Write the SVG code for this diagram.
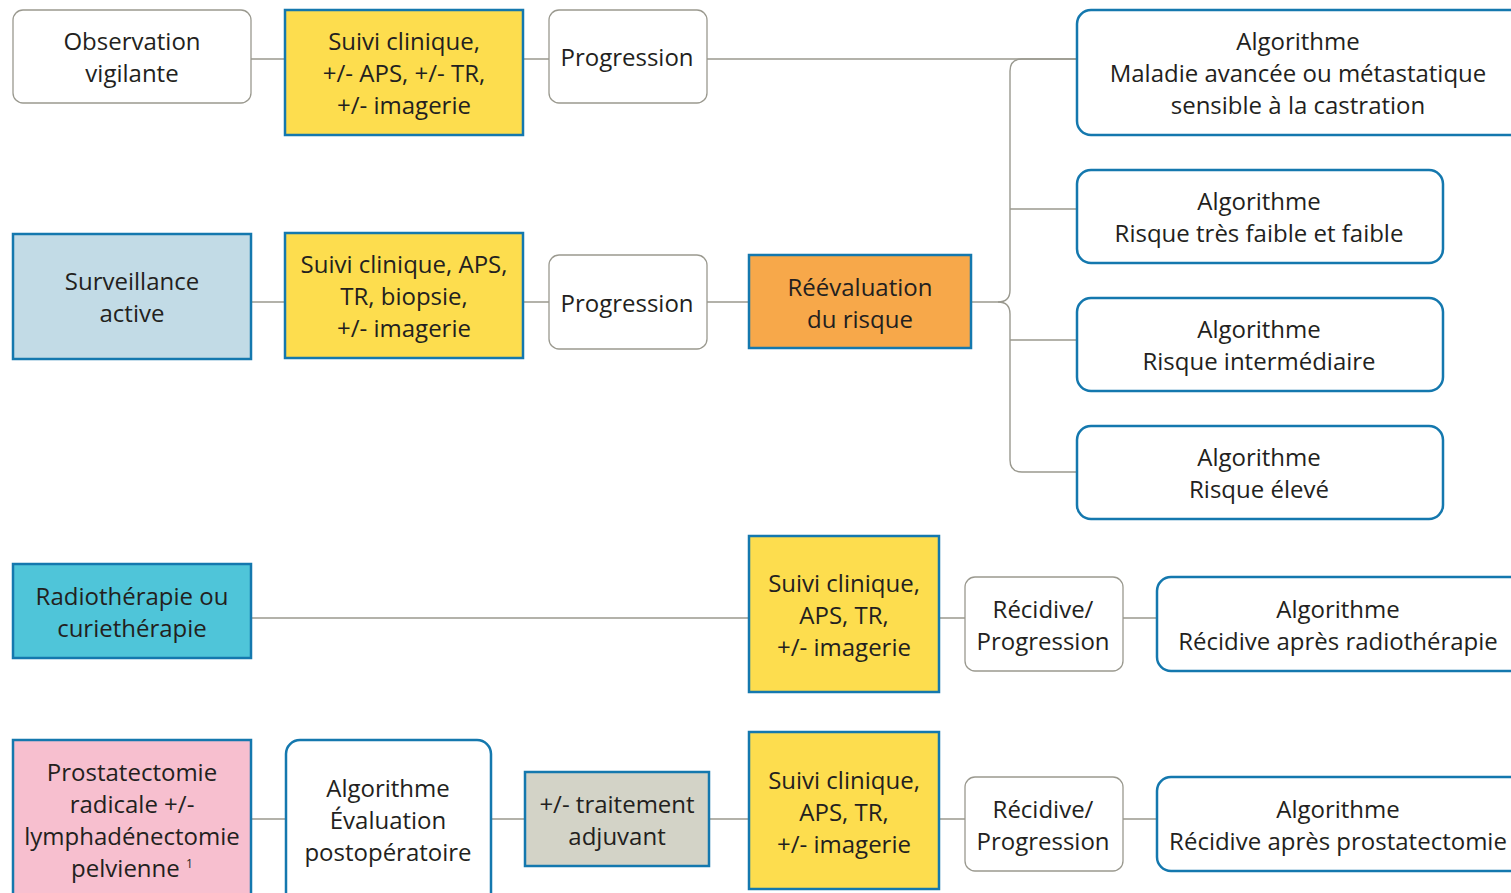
<svg xmlns="http://www.w3.org/2000/svg" width="1511" height="893" viewBox="0 0 1511 893">
  <style>
    .t { font-family: "Open Sans", "Liberation Sans", sans-serif; font-size: 24px; fill: #231f20; text-anchor: middle; }
    .sup { font-size: 12px; }
    .plain { fill: #ffffff; stroke: #9a998f; stroke-width: 1.3; }
    .algo { fill: #ffffff; stroke: #1478ae; stroke-width: 2.5; }
    .box { stroke: #1478ae; stroke-width: 2.5; }
    .yellow { fill: #fddd4e; }
    .blue { fill: #c2dbe6; }
    .cyan { fill: #4fc5d9; }
    .pink { fill: #f7bfcf; }
    .orange { fill: #f7a84a; }
    .grey { fill: #d3d3c7; }
    .conn { fill: none; stroke: #9a998f; stroke-width: 1.4; }
  </style>

  <!-- connectors -->
  <g id="connectors">
    <path class="conn" d="M251,59 H285 M523,59 H549 M707,59 H1077"/>
    <path class="conn" d="M251,302 H285 M523,302 H549 M707,302 H749"/>
    <!-- brace from risk reassessment to the four algorithms -->
    <path class="conn" d="M1077,59 H1022 Q1010,59 1010,71 V290 Q1010,302 998,302 H971"/>
    <path class="conn" d="M998,302 Q1010,302 1010,314 V460 Q1010,472 1022,472 H1077"/>
    <path class="conn" d="M1010,209 H1077 M1010,340 H1077"/>
    <path class="conn" d="M251,618 H749 M939,618 H965 M1123,618 H1157"/>
    <path class="conn" d="M251,819 H286 M491,819 H525 M709,819 H749 M939,819 H965 M1123,819 H1157"/>
  </g>

  <!-- row 1 -->
  <g id="observation">
    <rect class="plain" x="13" y="10" width="238" height="93" rx="10"/>
    <text class="t"><tspan x="132" y="50">Observation</tspan><tspan x="132" y="82">vigilante</tspan></text>
  </g>
  <g id="suivi1">
    <rect class="box yellow" x="285" y="10" width="238" height="125"/>
    <text class="t"><tspan x="404" y="50">Suivi clinique,</tspan><tspan x="404" y="82">+/- APS, +/- TR,</tspan><tspan x="404" y="114">+/- imagerie</tspan></text>
  </g>
  <g id="progression1">
    <rect class="plain" x="549" y="10" width="158" height="93" rx="10"/>
    <text class="t"><tspan x="627" y="66">Progression</tspan></text>
  </g>
  <g id="algo-avancee">
    <rect class="algo" x="1077" y="10" width="450" height="125" rx="14"/>
    <text class="t"><tspan x="1298" y="50">Algorithme</tspan><tspan x="1298" y="82">Maladie avancée ou métastatique</tspan><tspan x="1298" y="114">sensible à la castration</tspan></text>
  </g>

  <!-- row 2 -->
  <g id="surveillance">
    <rect class="box blue" x="13" y="234" width="238" height="125"/>
    <text class="t"><tspan x="132" y="290">Surveillance</tspan><tspan x="132" y="322">active</tspan></text>
  </g>
  <g id="suivi2">
    <rect class="box yellow" x="285" y="233" width="238" height="125"/>
    <text class="t"><tspan x="404" y="273">Suivi clinique, APS,</tspan><tspan x="404" y="305">TR, biopsie,</tspan><tspan x="404" y="337">+/- imagerie</tspan></text>
  </g>
  <g id="progression2">
    <rect class="plain" x="549" y="255" width="158" height="94" rx="10"/>
    <text class="t"><tspan x="627" y="312">Progression</tspan></text>
  </g>
  <g id="reevaluation">
    <rect class="box orange" x="749" y="255" width="222" height="93"/>
    <text class="t"><tspan x="860" y="296">Réévaluation</tspan><tspan x="860" y="328">du risque</tspan></text>
  </g>
  <g id="algo-faible">
    <rect class="algo" x="1077" y="170" width="366" height="93" rx="14"/>
    <text class="t"><tspan x="1259" y="210">Algorithme</tspan><tspan x="1259" y="242">Risque très faible et faible</tspan></text>
  </g>
  <g id="algo-intermediaire">
    <rect class="algo" x="1077" y="298" width="366" height="93" rx="14"/>
    <text class="t"><tspan x="1259" y="338">Algorithme</tspan><tspan x="1259" y="370">Risque intermédiaire</tspan></text>
  </g>
  <g id="algo-eleve">
    <rect class="algo" x="1077" y="426" width="366" height="93" rx="14"/>
    <text class="t"><tspan x="1259" y="466">Algorithme</tspan><tspan x="1259" y="498">Risque élevé</tspan></text>
  </g>

  <!-- row 3 -->
  <g id="radiotherapie">
    <rect class="box cyan" x="13" y="564" width="238" height="94"/>
    <text class="t"><tspan x="132" y="605">Radiothérapie ou</tspan><tspan x="132" y="637">curiethérapie</tspan></text>
  </g>
  <g id="suivi3">
    <rect class="box yellow" x="749" y="536" width="190" height="156"/>
    <text class="t"><tspan x="844" y="592">Suivi clinique,</tspan><tspan x="844" y="624">APS, TR,</tspan><tspan x="844" y="656">+/- imagerie</tspan></text>
  </g>
  <g id="recidive3">
    <rect class="plain" x="965" y="577" width="158" height="94" rx="10"/>
    <text class="t"><tspan x="1043" y="618">Récidive/</tspan><tspan x="1043" y="650">Progression</tspan></text>
  </g>
  <g id="algo-radio">
    <rect class="algo" x="1157" y="577" width="370" height="94" rx="14"/>
    <text class="t"><tspan x="1338" y="618">Algorithme</tspan><tspan x="1338" y="650">Récidive après radiothérapie</tspan></text>
  </g>

  <!-- row 4 -->
  <g id="prostatectomie">
    <rect class="box pink" x="13" y="740" width="238" height="170"/>
    <text class="t"><tspan x="132" y="781">Prostatectomie</tspan><tspan x="132" y="813">radicale +/-</tspan><tspan x="132" y="845">lymphadénectomie</tspan><tspan x="132" y="877">pelvienne <tspan class="sup" dy="-9">1</tspan></tspan></text>
  </g>
  <g id="algo-postop">
    <rect class="algo" x="286" y="740" width="205" height="170" rx="14"/>
    <text class="t"><tspan x="388" y="797">Algorithme</tspan><tspan x="388" y="829">Évaluation</tspan><tspan x="388" y="861">postopératoire</tspan></text>
  </g>
  <g id="adjuvant">
    <rect class="box grey" x="525" y="772" width="184" height="94"/>
    <text class="t"><tspan x="617" y="813">+/- traitement</tspan><tspan x="617" y="845">adjuvant</tspan></text>
  </g>
  <g id="suivi4">
    <rect class="box yellow" x="749" y="732" width="190" height="157"/>
    <text class="t"><tspan x="844" y="789">Suivi clinique,</tspan><tspan x="844" y="821">APS, TR,</tspan><tspan x="844" y="853">+/- imagerie</tspan></text>
  </g>
  <g id="recidive4">
    <rect class="plain" x="965" y="777" width="158" height="94" rx="10"/>
    <text class="t"><tspan x="1043" y="818">Récidive/</tspan><tspan x="1043" y="850">Progression</tspan></text>
  </g>
  <g id="algo-prostatectomie">
    <rect class="algo" x="1157" y="777" width="370" height="94" rx="14"/>
    <text class="t"><tspan x="1338" y="818">Algorithme</tspan><tspan x="1338" y="850">Récidive après prostatectomie</tspan></text>
  </g>
</svg>
